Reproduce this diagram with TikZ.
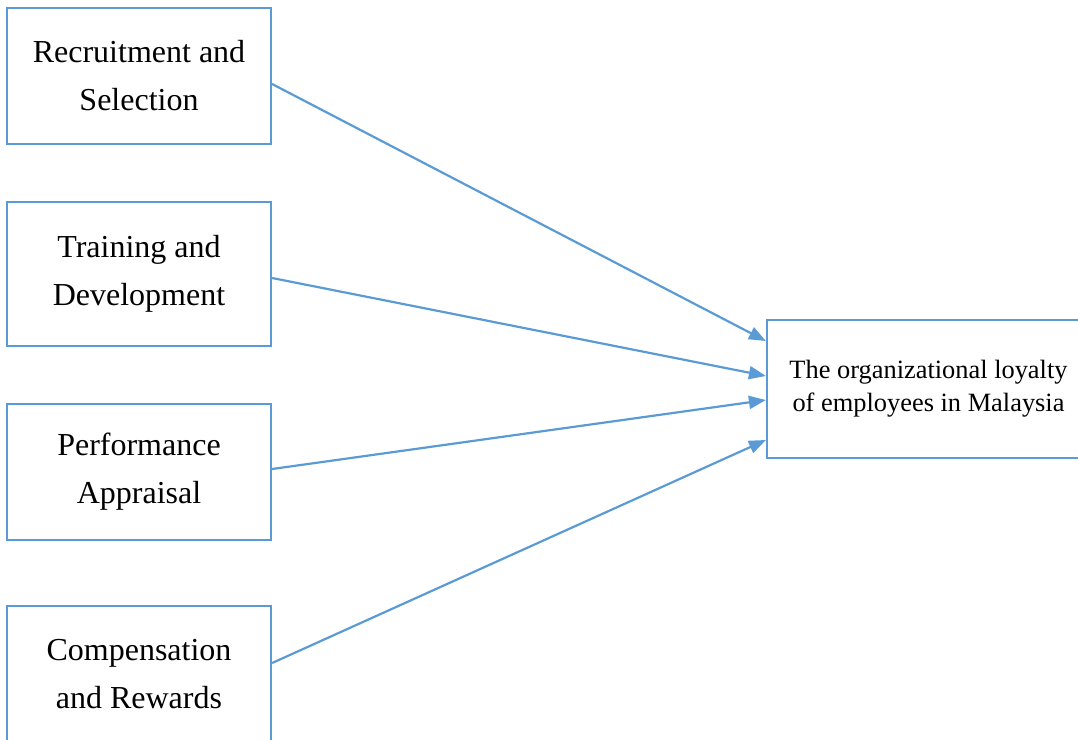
\documentclass[tikz,border=0pt]{standalone}
\usepackage{fontspec}
\setmainfont{Liberation Serif}
\usetikzlibrary{arrows.meta}
\definecolor{edge}{HTML}{5B9BD5}
\begin{document}
\begin{tikzpicture}[x=1pt,y=-1pt,
  factor/.style={draw=edge, line width=2.2pt, minimum width=264pt, inner sep=0pt,
    align=center, font=\fontsize{32}{48}\selectfont},
  outcome/.style={draw=edge, line width=2.2pt, minimum width=323pt, minimum height=138pt,
    inner sep=0pt, align=center, font=\fontsize{26.4}{33}\selectfont},
  link/.style={draw=edge, line width=2.2pt, -{Triangle[length=17pt,width=13pt]}}]
\clip (0,0) rectangle (1078,739);

% four HRM practices
\node[factor, minimum height=136pt] (rs) at (139,76) {Recruitment and\\Selection};
\node[factor, minimum height=144pt] (td) at (139,274) {Training and\\Development};
\node[factor, minimum height=136pt] (pa) at (139,472) {Performance\\Appraisal};
\node[factor, minimum height=136pt] (cr) at (139,674) {Compensation\\and Rewards};

% outcome
\node[outcome] (loy) at (928.5,389) {The organizational loyalty\\of employees in Malaysia};

% links
\draw[link] ([yshift=-8pt]rs.east) -- ([yshift=48pt]loy.west);
\draw[link] ([yshift=-4pt]td.east) -- ([yshift=13pt]loy.west);
\draw[link] ([yshift=3pt]pa.east) -- ([yshift=-11pt]loy.west);
\draw[link] ([yshift=11pt]cr.east) -- ([yshift=-51pt]loy.west);
\end{tikzpicture}
\end{document}
